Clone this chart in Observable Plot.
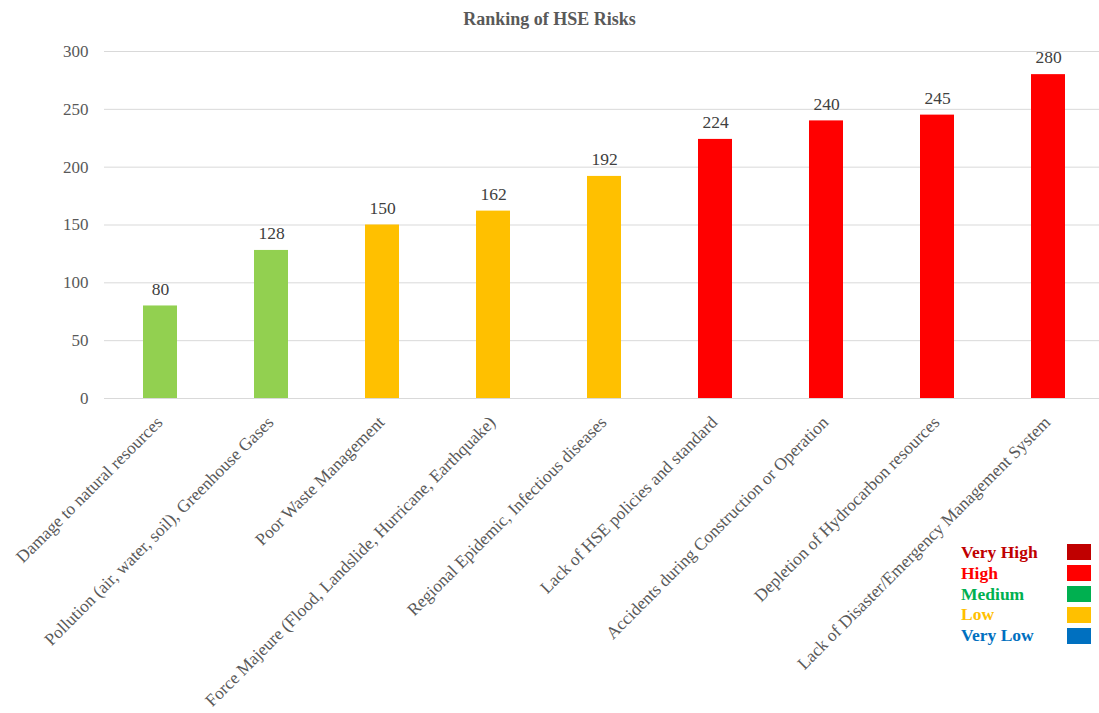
<!DOCTYPE html>
<html><head><meta charset="utf-8">
<script src="https://cdn.jsdelivr.net/npm/d3@7"></script>
<script src="https://cdn.jsdelivr.net/npm/@observablehq/plot@0.6"></script>
<style>
body{margin:0;background:#fff;font-family:"Liberation Serif","Times New Roman",serif;}
#wrap{position:relative;width:1099px;height:713px;overflow:hidden;}
#title{height:38px;line-height:38px;text-align:center;font-weight:bold;font-size:18px;color:#595959;}
#legend{position:absolute;left:961px;top:542px;font-weight:bold;font-size:17.5px;}
.row{display:flex;align-items:center;height:20.8px;}
.row span.t{width:106px;white-space:nowrap;}
.row span.s{width:24px;height:16px;display:inline-block;}
svg{overflow:visible;}
</style></head>
<body>
<div id="wrap">
<div id="title">Ranking of HSE Risks</div>
<div id="chart"></div>
<div id="legend"></div>
</div>
<script>
const categories = [
  "Damage to natural resources",
  "Pollution (air, water, soil), Greenhouse Gases",
  "Poor Waste Management",
  "Force Majeure (Flood, Landslide, Hurricane, Earthquake)",
  "Regional Epidemic, Infectious diseases",
  "Lack of HSE policies and standard",
  "Accidents during Construction or Operation",
  "Depletion of Hydrocarbon resources",
  "Lack of Disaster/Emergency Management System"
];
const values = [80, 128, 150, 162, 192, 224, 240, 245, 280];
const levels = ["Medium","Medium","Low","Low","Low","High","High","High","High"];
const barLevels = ["Medium","Low","High"];
const barColors = ["#92D050","#FFC000","#FF0000"];
const yTicks = [0, 50, 100, 150, 200, 250, 300];
const legendLevels = ["Very High","High","Medium","Low","Very Low"];
const legendColors = ["#C00000","#FF0000","#00B050","#FFC000","#0070C0"];

const data = categories.map((c, i) => ({cat: c, value: values[i], level: levels[i]}));

const chart = Plot.plot({
  width: 1099,
  height: 675,
  marginTop: 13,
  marginBottom: 315,
  marginLeft: 104,
  marginRight: 0,
  style: {fontFamily: '"Liberation Serif","Times New Roman",serif', background: "transparent"},
  x: {domain: categories, range: [104.4, 1104.6], paddingInner: 0.69, paddingOuter: 0.345},
  y: {domain: [0, 300]},
  color: {domain: barLevels, range: barColors},
  marks: [
    Plot.gridY(yTicks, {stroke: "#d9d9d9", strokeOpacity: 1, strokeWidth: 1}),
    Plot.axisY(yTicks, {tickSize: 0, tickPadding: 16, fontSize: 17, fill: "#595959", label: null}),
    Plot.barY(data, {x: "cat", y: "value", fill: "level"}),
    Plot.text(data, {x: "cat", y: "value", text: d => String(d.value), dy: -17, fontSize: 17.5, fill: "#404040"}),
    Plot.axisX({tickRotate: -45, tickSize: 0, tickPadding: 21, dx: -1, fontSize: 17.4, fill: "#595959", label: null})
  ]
});
document.getElementById("chart").appendChild(chart);

const lg = document.getElementById("legend");
legendLevels.forEach((l, i) => {
  const row = document.createElement("div");
  row.className = "row";
  row.innerHTML = `<span class="t" style="color:${legendColors[i]}">${l}</span><span class="s" style="background:${legendColors[i]}"></span>`;
  lg.appendChild(row);
});
</script>
</body></html>
